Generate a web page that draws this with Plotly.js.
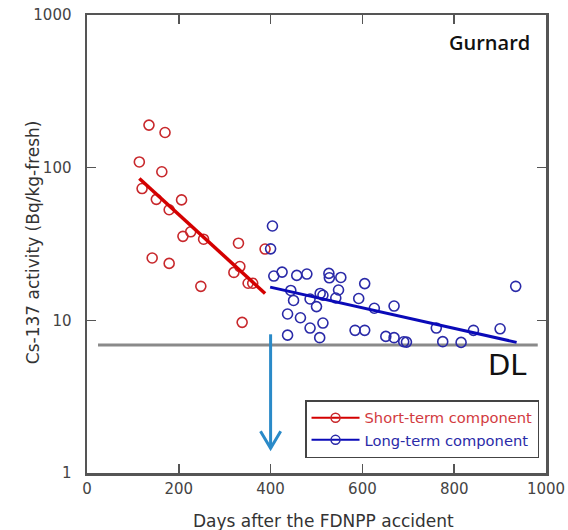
<!DOCTYPE html>
<html>
<head>
<meta charset="utf-8">
<script src="https://cdn.plot.ly/plotly-3.0.1.min.js"></script>
<style>html,body{margin:0;padding:0;background:#fff;}#chart{width:568px;height:530px;}</style>
</head>
<body>
<div id="chart"></div>
<script>
// Short-term component data (days, Bq/kg-fresh)
const shortDays = [135,170,114,163,120,151,206,179,226,209,254,142,179,330,333,320,351,361,248,338,388];
const shortAct  = [190,170,109,94,73,62,61.5,53,38,35.5,34,25.6,23.6,32,22.5,20.6,17.5,17.5,16.7,9.7,29.3];
// Long-term component data
const longDays = [404,400,407,425,457,479,527,528,553,605,444,450,486,508,514,548,542,592,500,626,669,437,465,514,486,437,507,584,605,651,669,690,696,761,775,815,842,900,934];
const longAct  = [41.5,29.4,19.5,20.7,19.7,20.1,20.3,19,19.1,17.4,15.7,13.5,13.8,15,14.6,15.8,14,13.9,12.3,12,12.4,11,10.4,9.6,8.9,8,7.7,8.6,8.6,7.85,7.7,7.24,7.2,8.9,7.25,7.17,8.6,8.8,16.7];
// Fitted lines
const shortFitDays = [114,388];
const shortFitAct  = [85,15];
const longFitDays  = [399,936];
const longFitAct   = [16.5,7.17];
// Detection limit
const dlDays = [24,982];
const dlAct  = [6.9,6.9];
// Arrow marking day 400
const arrowShaftDays = [400,400];
const arrowShaftAct  = [8.1,1.45];
const arrowHeadDays  = [378,400,422];
const arrowHeadAct   = [1.88,1.45,1.88];
// Tick labels
const xTicks = [0,200,400,600,800,1000];
const yTicks = [1,10,100,1000];

const redM = '#c8282c', blueM = '#2a2aa8';
const redL = '#d40000', blueL = '#0a0ab8';

const traces = [
  {x: dlDays, y: dlAct, mode:'lines', line:{color:'#8a8a8a', width:3}, showlegend:false, hoverinfo:'skip'},
  {x: shortDays, y: shortAct, mode:'markers', marker:{symbol:'circle-open', size:10, color:redM, line:{width:1.6, color:redM}}, showlegend:false},
  {x: longDays, y: longAct, mode:'markers', marker:{symbol:'circle-open', size:10, color:blueM, line:{width:1.6, color:blueM}}, showlegend:false},
  {x: shortFitDays, y: shortFitAct, mode:'lines', line:{color:redL, width:3.5}, showlegend:false},
  {x: longFitDays, y: longFitAct, mode:'lines', line:{color:blueL, width:3}, showlegend:false},
  {x: arrowShaftDays, y: arrowShaftAct, mode:'lines', line:{color:'#2a8ac8', width:3}, showlegend:false},
  {x: arrowHeadDays, y: arrowHeadAct, mode:'lines', line:{color:'#2a8ac8', width:3}, showlegend:false},
  {x:[null], y:[null], mode:'lines+markers', name:'<span style="color:#d23a40">Short-term component</span>', line:{color:redL, width:2}, marker:{symbol:'circle-open', size:9, color:redM, line:{width:1.5,color:redM}}},
  {x:[null], y:[null], mode:'lines+markers', name:'<span style="color:#2a2aa8">Long-term component</span>', line:{color:blueL, width:2}, marker:{symbol:'circle-open', size:9, color:blueM, line:{width:1.5,color:blueM}}}
];

const fontFam = '"DejaVu Sans", sans-serif';
const layout = {
  width:568, height:530,
  margin:{l:87, r:22, t:15, b:57},
  paper_bgcolor:'#fff', plot_bgcolor:'#fff',
  font:{family:fontFam, color:'#333', size:14},
  xaxis:{
    range:[0,1000], tickvals:xTicks, ticktext:xTicks.map(String),
    ticks:'inside', ticklen:9, tickwidth:1.5, tickcolor:'#555',
    showline:true, linecolor:'#555', linewidth:2.5, mirror:'ticks',
    showgrid:false, zeroline:false,
    tickfont:{size:15, color:'#444'}
  },
  yaxis:{
    type:'log', range:[0,3], tickvals:yTicks, ticktext:yTicks.map(String),
    ticks:'inside', ticklen:9, tickwidth:1.5, tickcolor:'#555',
    showline:true, linecolor:'#555', linewidth:2.5, mirror:'ticks',
    showgrid:false, zeroline:false,
    tickfont:{size:15, color:'#444'},
    ticklabelstandoff:10
  },
  legend:{
    x:0.475, y:0.159, xanchor:'left', yanchor:'top',
    bordercolor:'#444', borderwidth:1.5, bgcolor:'#fff',
    font:{size:14.7, color:'#333'}, tracegroupgap:0, itemwidth:48
  },
  annotations:[
    {xref:'paper', yref:'paper', x:0.969, y:0.941, xanchor:'right', yanchor:'middle', text:'Gurnard', showarrow:false, font:{size:20, color:'#111', family:'"Open Sans", sans-serif', weight:600}},
    {xref:'paper', yref:'paper', x:0.963, y:0.236, xanchor:'right', yanchor:'middle', text:'DL', showarrow:false, font:{size:29, color:'#111', family:fontFam}},
    {xref:'paper', yref:'paper', x:-0.1176, y:0.504, xanchor:'center', yanchor:'middle', textangle:-90, text:'Cs-137 activity (Bq/kg-fresh)', showarrow:false, font:{size:17, color:'#333', family:fontFam}},
    {xref:'paper', yref:'paper', x:0.516, y:-0.1048, xanchor:'center', yanchor:'middle', text:'Days after the FDNPP accident', showarrow:false, font:{size:17, color:'#333', family:fontFam}}
  ],
  showlegend:true
};
Plotly.newPlot('chart', traces, layout, {displayModeBar:false, staticPlot:true});
</script>
</body>
</html>
